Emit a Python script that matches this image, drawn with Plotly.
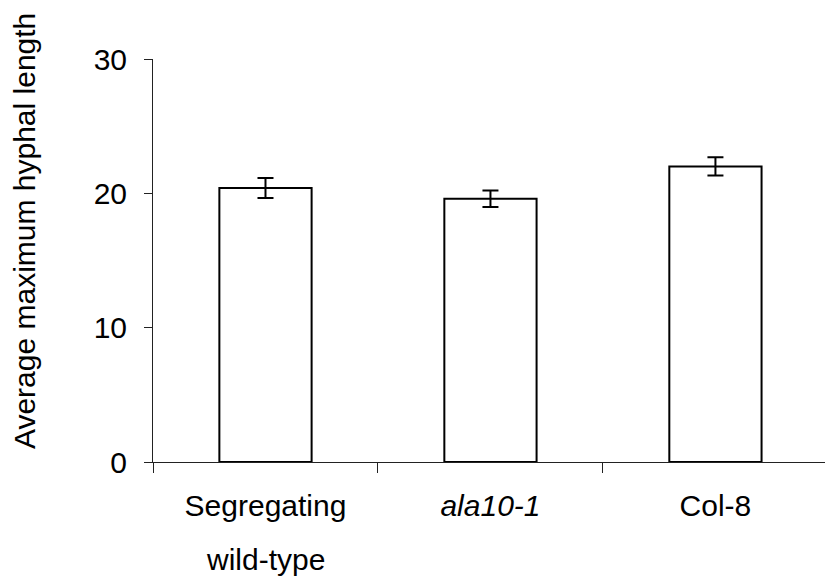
import plotly.graph_objects as go

# Hyphal length per genotype
categories = ["Segregating", "<i>ala10-1</i>", "Col-8"]
mean_length = [20.4, 19.6, 22.0]
sem_length = [0.75, 0.62, 0.68]
y_ticks = [0, 10, 20, 30]

FONT = "Liberation Sans, Arial, sans-serif"
SIZE = 30

fig = go.Figure(
    go.Bar(
        x=categories,
        y=mean_length,
        width=0.41,
        marker=dict(color="white", line=dict(color="black", width=2)),
        error_y=dict(type="data", array=sem_length, visible=True,
                     color="black", thickness=2, width=8),
    )
)

fig.update_layout(
    width=825, height=579,
    margin=dict(l=153, r=0, t=59, b=117),
    paper_bgcolor="white", plot_bgcolor="white",
    showlegend=False,
    font=dict(family=FONT, color="black", size=SIZE),
    xaxis=dict(
        range=[-0.5, 2.487],
        showline=True, linecolor="#222", linewidth=1,
        ticks="outside", tickson="boundaries", ticklen=10,
        tickcolor="#222", tickwidth=1,
        showgrid=False, zeroline=False,
        tickfont=dict(size=SIZE),
        ticklabelstandoff=17,
    ),
    yaxis=dict(
        range=[0, 30],
        tickvals=y_ticks,
        showline=True, linecolor="#222", linewidth=1,
        ticks="outside", ticklen=8, tickcolor="#222", tickwidth=1,
        showgrid=False, zeroline=False,
        tickfont=dict(size=SIZE),
        ticklabelstandoff=11,
    ),
    annotations=[
        dict(text="wild-type", x=0, xref="x", y=-0.196, yref="paper",
             xanchor="center", yanchor="top", showarrow=False,
             font=dict(size=SIZE)),
        dict(text="Average maximum hyphal length", textangle=-90,
             x=-0.192, xref="paper", y=0.573, yref="paper",
             xanchor="center", yanchor="middle", showarrow=False,
             font=dict(size=SIZE)),
    ],
)

fig.write_html("out.html")
